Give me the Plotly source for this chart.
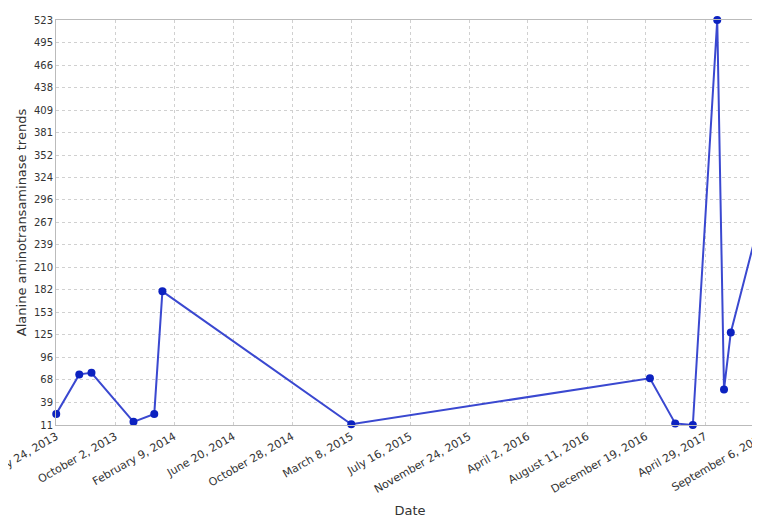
import plotly.graph_objects as go

dates = ['2013-05-24', '2013-07-14', '2013-08-10', '2013-11-11', '2013-12-27', '2014-01-14',
         '2015-03-08', '2016-12-28', '2017-02-22', '2017-04-02', '2017-05-26', '2017-06-10',
         '2017-06-25', '2017-09-06']
alt = [25, 75, 77, 15, 25, 180, 12, 70, 13, 11, 523, 56, 128, 290]

tick_dates = ['2013-05-24', '2013-10-02', '2014-02-09', '2014-06-20', '2014-10-28', '2015-03-08',
              '2015-07-16', '2015-11-24', '2016-04-02', '2016-08-11', '2016-12-19', '2017-04-29',
              '2017-09-06']
tick_text = ['May 24, 2013', 'October 2, 2013', 'February 9, 2014', 'June 20, 2014',
             'October 28, 2014', 'March 8, 2015', 'July 16, 2015', 'November 24, 2015',
             'April 2, 2016', 'August 11, 2016', 'December 19, 2016', 'April 29, 2017',
             'September 6, 2017']
y_ticks = [11, 39, 68, 96, 125, 153, 182, 210, 239, 267, 296, 324, 352, 381, 409, 438, 466, 495, 523]

fig = go.Figure()
fig.add_trace(go.Scatter(x=dates, y=alt, mode='lines+markers', cliponaxis=False,
                         line=dict(color='#3a48d0', width=2),
                         marker=dict(color='#0c22c0', size=8)))

fig.update_layout(width=760, height=516, plot_bgcolor='white', paper_bgcolor='white',
                  margin=dict(l=48, r=4, t=12, b=99), showlegend=False,
                  font=dict(family='DejaVu Sans', size=11, color='#333'))
fig.update_xaxes(range=['2013-05-23 12:00', '2017-09-06 12:00'], tickvals=tick_dates,
                 ticktext=tick_text, ticklabeloverflow='allow', automargin=False,
                 tickangle=-30, showgrid=True, gridcolor='#d0d0d0', griddash='dot',
                 showline=True, linecolor='#bbb', mirror=True,
                 title=dict(text='Date', standoff=10))
fig.update_yaxes(range=[11, 523], tickvals=y_ticks, showgrid=True, gridcolor='#d0d0d0',
                 griddash='dot', showline=True, linecolor='#bbb', mirror=True,
                 automargin=False, tickfont=dict(size=10),
                 title=dict(text='Alanine aminotransaminase trends', standoff=4))

fig.write_html("out.html")
